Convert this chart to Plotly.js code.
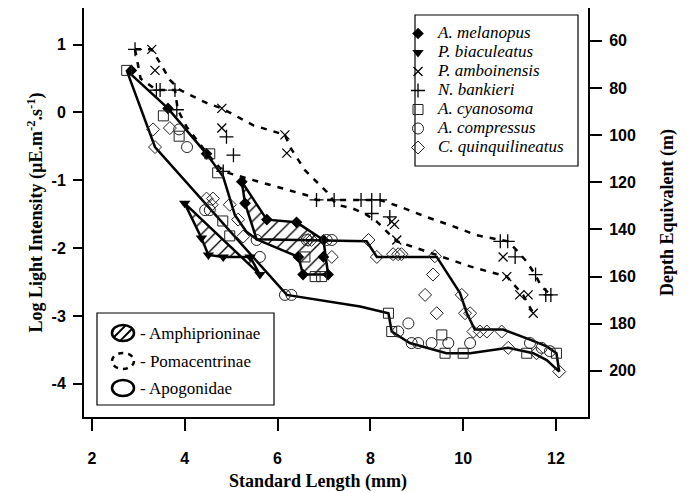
<!DOCTYPE html>
<html><head><meta charset="utf-8">
<script src="https://cdn.plot.ly/plotly-3.0.1.min.js"></script>
<style>html,body{margin:0;padding:0;background:#fff}</style>
</head><body><div id="chart" style="width:693px;height:493px"></div>
<script>
// ---------------- DATA ----------------
const xTickVals = [2, 4, 6, 8, 10, 12];
const xTickText = ['2', '4', '6', '8', '10', '12'];
const yTickVals = [1, 0, -1, -2, -3, -4];
const yTickText = ['1', '0', '-1', '-2', '-3', '-4'];
const depthTickVals = [60, 80, 100, 120, 140, 160, 180, 200];
const depthTickText = ['60', '80', '100', '120', '140', '160', '180', '200'];

const speciesNames = ['A. melanopus', 'P. biaculeatus', 'P. amboinensis', 'N. bankieri',
                      'A. cyanosoma', 'A. compressus', 'C. quinquilineatus'];
const familyLabels = ['- Amphiprioninae', '- Pomacentrinae', '- Apogonidae'];

// A. melanopus
const melanopusX = [2.85, 3.64, 4.47, 5.23, 5.30, 5.77, 6.41, 6.99, 6.45, 6.99, 6.55, 7.09];
const melanopusY = [0.62, 0.06, -0.61, -1.02, -1.34, -1.58, -1.62, -1.88, -2.13, -2.13, -2.39, -2.39];
// P. biaculeatus
const biaculeatusX = [4.00, 4.36, 4.51, 4.83, 5.41, 5.62];
const biaculeatusY = [-1.34, -1.85, -2.10, -2.13, -2.13, -2.39];
// P. amboinensis
const amboinensisX = [3.29, 3.36, 4.80, 4.80, 6.16, 6.20, 8.46, 8.52, 8.57, 10.86, 10.94, 11.22, 11.40, 11.51];
const amboinensisY = [0.93, 0.62, 0.06, -0.23, -0.33, -0.60, -1.61, -1.65, -1.88, -2.13, -2.42, -2.69, -2.69, -2.96];
// N. bankieri
const bankieriX = [2.93, 3.39, 3.47, 3.79, 3.83, 4.90, 5.05, 4.83, 6.84, 7.22, 7.80, 8.03, 8.21, 8.03, 8.42, 10.80, 10.96, 11.12, 11.56, 11.78, 11.89];
const bankieriY = [0.93, 0.33, 0.33, 0.33, 0.04, -0.36, -0.63, -0.87, -1.29, -1.29, -1.29, -1.29, -1.29, -1.49, -1.54, -1.90, -1.90, -2.13, -2.39, -2.69, -2.69];
// A. cyanosoma
const cyanosomaX = [2.75, 3.54, 3.88, 4.54, 4.71, 4.82, 4.97, 6.59, 6.81, 6.95, 8.39, 8.46, 9.54, 9.61, 10.00, 11.37, 12.01];
const cyanosomaY = [0.62, -0.05, -0.35, -0.61, -0.89, -1.60, -1.82, -2.13, -2.42, -2.42, -2.96, -3.23, -3.28, -3.55, -3.55, -3.55, -3.55];
// A. compressus
const compressusX = [3.88, 4.05, 4.44, 4.54, 5.55, 5.62, 6.63, 7.06, 7.17, 6.16, 6.30, 8.60, 8.82, 8.89, 9.03, 9.32, 9.68, 10.15, 11.44, 11.69, 11.87];
const compressusY = [-0.25, -0.51, -1.44, -1.44, -1.88, -2.13, -1.88, -1.88, -1.88, -2.69, -2.69, -3.23, -3.11, -3.40, -3.40, -3.40, -3.40, -3.40, -3.40, -3.47, -3.52];
// C. quinquilineatus
const quinqX = [3.32, 3.36, 3.68, 4.47, 4.61, 4.58, 4.97, 5.15, 5.26, 6.66, 6.73, 7.17, 7.96, 8.14, 8.49, 8.60, 8.67, 9.39, 9.35, 9.18, 9.43, 9.97, 10.04, 10.15, 10.22, 10.36, 10.51, 10.83, 10.97, 11.58, 12.07];
const quinqY = [-0.25, -0.51, -0.23, -1.27, -1.27, -1.36, -1.36, -1.58, -1.83, -1.88, -1.88, -2.13, -1.88, -2.13, -2.09, -2.09, -2.09, -2.12, -2.39, -2.69, -2.96, -2.69, -2.96, -2.96, -3.23, -3.23, -3.23, -3.23, -3.47, -3.55, -3.82];

// Envelope outlines
const apogonidaeX = [2.75, 3.64, 4.47, 4.83, 5.08, 5.33, 5.55, 7.92, 8.14, 9.43, 9.93, 10.08, 10.25, 10.86, 11.44, 11.80, 12.01, 12.07, 11.80, 11.51, 10.97, 10.15, 9.64, 8.85, 8.46, 8.39, 7.78, 6.20, 3.36, 2.75];
const apogonidaeY = [0.62, 0.06, -0.61, -0.95, -1.51, -1.76, -1.87, -1.90, -2.13, -2.13, -2.66, -2.96, -3.20, -3.20, -3.35, -3.45, -3.55, -3.82, -3.65, -3.55, -3.47, -3.55, -3.55, -3.40, -3.23, -2.96, -2.86, -2.69, -0.51, 0.62];
const melanopusEnvX = [5.23, 5.77, 6.41, 6.99, 7.09, 6.55, 6.45, 5.55, 5.30, 5.23];
const melanopusEnvY = [-1.02, -1.58, -1.62, -1.88, -2.39, -2.39, -2.13, -1.87, -1.34, -1.02];
const biaculeatusEnvX = [4.00, 4.36, 4.51, 4.83, 5.41, 5.62, 4.00];
const biaculeatusEnvY = [-1.34, -1.85, -2.10, -2.13, -2.13, -2.39, -1.34];
const pomaUpperX = [2.93, 3.29, 3.45, 3.68, 3.90, 4.47, 4.80, 5.48, 6.16, 6.27, 6.59, 7.06, 7.27, 7.60, 7.88, 8.14, 8.57, 9.57, 10.15, 10.94, 11.29, 11.51];
const pomaUpperY = [0.93, 0.93, 0.75, 0.48, 0.33, 0.14, 0.06, -0.19, -0.33, -0.51, -0.85, -1.17, -1.36, -1.41, -1.49, -1.61, -1.90, -2.13, -2.27, -2.42, -2.69, -2.96];
const pomaLowerX = [2.93, 3.05, 3.39, 3.79, 3.85, 4.04, 4.50, 4.83, 5.33, 5.98, 6.63, 6.84, 8.21, 8.64, 9.21, 9.79, 10.29, 10.96, 11.15, 11.37, 11.55, 11.69, 11.89];
const pomaLowerY = [0.93, 0.50, 0.33, 0.33, 0.04, -0.21, -0.62, -0.87, -0.97, -1.09, -1.22, -1.29, -1.29, -1.39, -1.54, -1.68, -1.81, -1.90, -2.03, -2.20, -2.39, -2.57, -2.69];

// ---------------- LAYOUT HELPERS ----------------
const L = 84, T = 8, W = 504, H = 409;
const px2x = p => (p - L) / W;
const py2y = p => 1 - (p - T) / H;

const serif = 'Liberation Serif, Times New Roman, serif';
const sans = 'Liberation Sans, Arial, sans-serif';
const tickFont = {family: sans, size: 16, weight: 'bold', color: 'black'};
const titleFont = {family: serif, size: 18, weight: 'bold', color: 'black'};

const hatch = {shape: '/', fgcolor: 'black', bgcolor: 'rgba(0,0,0,0)', size: 9, solidity: 0.15};

const traces = [];
function outline(x, y, dash, fillpat) {
  const t = {x: x, y: y, mode: 'lines', showlegend: false, hoverinfo: 'skip',
             line: {color: 'black', width: 2.5, dash: dash || 'solid'}};
  if (fillpat) { t.fill = 'toself'; t.fillcolor = 'rgba(0,0,0,0)'; t.fillpattern = fillpat; }
  traces.push(t);
}
outline(apogonidaeX, apogonidaeY);
outline(biaculeatusEnvX, biaculeatusEnvY, null, hatch);
outline(melanopusEnvX, melanopusEnvY, null, hatch);
outline(pomaUpperX, pomaUpperY, '6px,7px');
outline(pomaLowerX, pomaLowerY, '6px,7px');

const legName = s => '<i><span style="font-size:17px">' + s + '</span></i>';
function species(name, x, y, marker) {
  traces.push({x: x, y: y, mode: 'markers', name: legName(name), marker: marker, hoverinfo: 'x+y'});
}
species(speciesNames[0], melanopusX, melanopusY, {symbol: 'diamond', size: 9, color: 'black'});
species(speciesNames[1], biaculeatusX, biaculeatusY, {symbol: 'triangle-down', size: 10, color: 'black'});
species(speciesNames[2], amboinensisX, amboinensisY, {symbol: 'x-thin', size: 9, line: {width: 1.3, color: 'black'}});
species(speciesNames[3], bankieriX, bankieriY, {symbol: 'cross-thin', size: 10, line: {width: 1.3, color: 'black'}});
species(speciesNames[4], cyanosomaX, cyanosomaY, {symbol: 'square-open', size: 10, color: '#222', line: {width: 1}});
species(speciesNames[5], compressusX, compressusY, {symbol: 'circle-open', size: 11, color: '#222', line: {width: 1}});
species(speciesNames[6], quinqX, quinqY, {symbol: 'diamond-open', size: 10, color: '#222', line: {width: 1}});
// secondary (depth) axis carrier
traces.push({x: [], y: [], yaxis: 'y2', mode: 'markers', showlegend: false, hoverinfo: 'skip'});

// ---------------- SHAPES (family key + legend frame) ----------------
const shapes = [];
shapes.push({type: 'rect', xref: 'paper', yref: 'paper', x0: px2x(415), x1: px2x(578), y0: py2y(166), y1: py2y(15),
             line: {color: 'black', width: 1.2}, fillcolor: 'rgba(0,0,0,0)'});
shapes.push({type: 'rect', xref: 'paper', yref: 'paper', x0: px2x(97), x1: px2x(274), y0: py2y(405), y1: py2y(313),
             line: {color: 'black', width: 1.2}, fillcolor: 'white'});
const keyRows = [333, 361, 388];
const cx = 123, rx = 11, ry = 8;
keyRows.forEach((cy, i) => {
  shapes.push({type: 'circle', xref: 'paper', yref: 'paper',
               x0: px2x(cx - rx), x1: px2x(cx + rx), y0: py2y(cy + ry), y1: py2y(cy - ry),
               line: {color: 'black', width: 2.5, dash: i === 1 ? '5px,5px' : 'solid'}});
  if (i === 0) {
    [-3.5, 3.5].forEach(d => {
      const ux = Math.SQRT1_2, uy = -Math.SQRT1_2, nx = Math.SQRT1_2, ny = Math.SQRT1_2;
      const ox = d * nx, oy = d * ny;
      const a = (ux / rx) ** 2 + (uy / ry) ** 2;
      const b = 2 * (ox * ux / rx / rx + oy * uy / ry / ry);
      const c = (ox / rx) ** 2 + (oy / ry) ** 2 - 1;
      const disc = Math.sqrt(b * b - 4 * a * c);
      const t1 = (-b - disc) / (2 * a) + 0.5, t2 = (-b + disc) / (2 * a) - 0.5;
      shapes.push({type: 'line', xref: 'paper', yref: 'paper',
                   x0: px2x(cx + ox + t1 * ux), y0: py2y(cy + oy + t1 * uy),
                   x1: px2x(cx + ox + t2 * ux), y1: py2y(cy + oy + t2 * uy),
                   line: {color: 'black', width: 2}});
    });
  }
});
const annotations = keyRows.map((cy, i) => ({
  xref: 'paper', yref: 'paper', x: px2x(138), y: py2y(cy), xanchor: 'left', yanchor: 'middle',
  text: familyLabels[i], showarrow: false, font: {family: serif, size: 17, color: 'black'}
}));
annotations.push({xref: 'paper', yref: 'paper', x: px2x(318), y: py2y(482), xanchor: 'center', yanchor: 'middle',
  text: 'Standard Length (mm)', showarrow: false, font: titleFont});

const layout = {
  width: 693, height: 493,
  margin: {l: L, r: 693 - L - W, t: T, b: 493 - T - H},
  paper_bgcolor: 'white', plot_bgcolor: 'white',
  showlegend: true,
  legend: {x: px2x(398), y: py2y(19), xanchor: 'left', yanchor: 'top', bgcolor: 'rgba(0,0,0,0)',
           borderwidth: 0, font: {family: serif, size: 11, color: 'black'}},
  xaxis: {range: [1.83, 12.69], tickmode: 'array', tickvals: xTickVals, ticktext: xTickText,
          ticks: 'outside', ticklen: 12, tickwidth: 2, tickcolor: 'black', ticklabelstandoff: 14,
          showline: true, linewidth: 2, linecolor: 'black', showgrid: false, zeroline: false,
          tickfont: tickFont},
  yaxis: {range: [-4.49, 1.54], tickmode: 'array', tickvals: yTickVals, ticktext: yTickText,
          ticks: 'outside', ticklen: 9, tickwidth: 2, tickcolor: 'black', ticklabelstandoff: 4,
          showline: true, linewidth: 2, linecolor: 'black', showgrid: false, zeroline: false,
          tickfont: tickFont,
          title: {text: 'Log Light Intensity (µE.m<sup>-2</sup>.s<sup>-1</sup>)', font: titleFont, standoff: 4}},
  yaxis2: {overlaying: 'y', side: 'right', range: [219.6, 46.1], tickmode: 'array',
           tickvals: depthTickVals, ticktext: depthTickText,
           ticks: 'outside', ticklen: 12, tickwidth: 2, tickcolor: 'black', ticklabelstandoff: 4,
           showline: true, linewidth: 2, linecolor: 'black', showgrid: false, zeroline: false,
           tickfont: tickFont,
           title: {text: 'Depth Equivalent (m)', font: titleFont, standoff: 25}},
  shapes: shapes,
  annotations: annotations
};

Plotly.newPlot('chart', traces, layout, {staticPlot: true});
</script></body></html>
